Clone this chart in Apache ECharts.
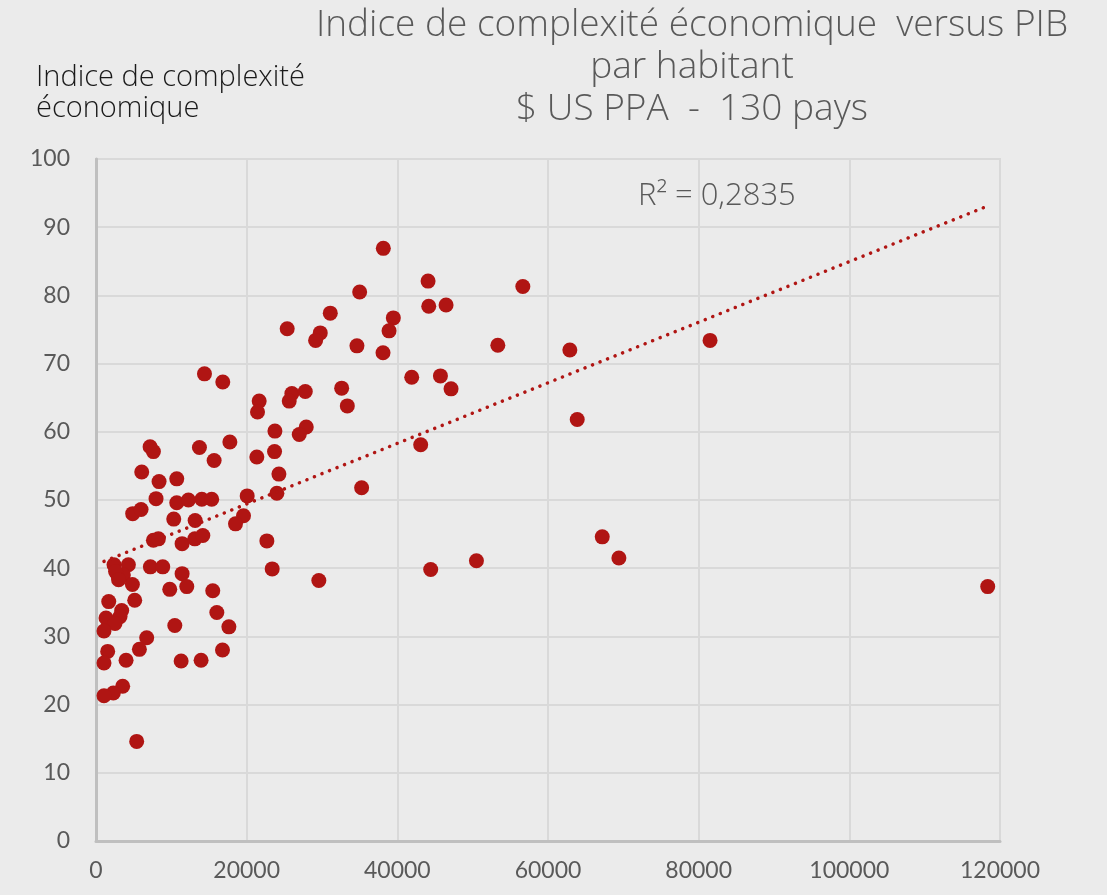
<!DOCTYPE html>
<html>
<head>
<meta charset="utf-8">
<script src="https://cdn.jsdelivr.net/npm/echarts@6/dist/echarts.min.js"></script>
<style>
  html, body { margin: 0; padding: 0; background: #ebebeb; }
  #chart { width: 1107px; height: 895px; }
</style>
</head>
<body>
<div id="chart"></div>
<script>
// PIB par habitant ($ US PPA) and indice de complexité
const gdp = [
    38140, 44080, 44170, 46470, 35000, 56660, 31100, 39470, 38900, 25380,
    29770, 29150, 34640, 38100, 53340, 62900, 81510, 63880, 67200, 69410,
    50500, 118370, 14400, 16830, 41910, 45720, 47130, 32610, 33360, 21660,
    21440, 26000, 25650, 27780, 27910, 26980, 23750, 23700, 21350, 17770,
    13730, 15680, 24280, 24010, 35260, 43100, 20070, 19580, 18520, 13160,
    14050, 15360, 7180, 7620, 6070, 8370, 10720, 7970, 10720, 12270,
    4870, 5980, 10320, 11430, 13120, 14180, 7620, 8280, 22680, 23390,
    2390, 4300, 7220, 8860, 11430, 2960, 3630, 4830, 12050, 9790,
    15500, 1690, 5140, 3410, 3190, 1330, 2520, 1060, 10460, 16040,
    17640, 6730, 5760, 1550, 1060, 3990, 11300, 13950, 16790, 3540,
    2300, 1060, 5400, 29580, 44430, 2600, 3000
];
const eci = [
    86.9, 82.1, 78.4, 78.6, 80.5, 81.3, 77.4, 76.7, 74.8, 75.1,
    74.5, 73.4, 72.6, 71.6, 72.7, 72.0, 73.4, 61.8, 44.6, 41.5,
    41.1, 37.3, 68.5, 67.3, 68.0, 68.2, 66.3, 66.4, 63.8, 64.5,
    62.9, 65.6, 64.5, 65.9, 60.7, 59.6, 60.1, 57.1, 56.3, 58.5,
    57.7, 55.8, 53.8, 51.0, 51.8, 58.1, 50.6, 47.7, 46.5, 47.0,
    50.1, 50.1, 57.8, 57.1, 54.1, 52.7, 53.1, 50.2, 49.6, 50.0,
    48.0, 48.6, 47.2, 43.6, 44.3, 44.8, 44.1, 44.3, 44.0, 39.9,
    40.5, 40.5, 40.2, 40.2, 39.2, 38.8, 39.0, 37.6, 37.3, 36.9,
    36.7, 35.1, 35.3, 33.8, 32.9, 32.7, 31.9, 30.8, 31.6, 33.5,
    31.4, 29.8, 28.1, 27.8, 26.1, 26.5, 26.4, 26.5, 28.0, 22.7,
    21.7, 21.3, 14.6, 38.2, 39.8, 39.5, 38.3
];
const xTicks = [0, 20000, 40000, 60000, 80000, 100000, 120000];
const yTicks = [0, 10, 20, 30, 40, 50, 60, 70, 80, 90, 100];
const r2Label = 'R² = 0,2835';

const red = '#b01513';
const grey = '#595959';
const font = 'Lato, "Open Sans", sans-serif';
const wide = '"Open Sans", Lato, sans-serif';

// linear trend (least squares) over the points
function trend(xs, ys) {
    const n = xs.length;
    let sx = 0, sy = 0, sxx = 0, sxy = 0;
    for (let i = 0; i < n; i++) {
        sx += xs[i]; sy += ys[i]; sxx += xs[i] * xs[i]; sxy += xs[i] * ys[i];
    }
    const b = (n * sxy - sx * sy) / (n * sxx - sx * sx);
    const a = (sy - b * sx) / n;
    const x0 = Math.min(...xs), x1 = Math.max(...xs);
    return [[x0, a + b * x0], [x1, a + b * x1]];
}

const points = gdp.map((g, i) => [g, eci[i]]);

var chart = echarts.init(document.getElementById('chart'));
chart.setOption({
    backgroundColor: '#ebebeb',
    animation: false,
    title: {
        text: 'Indice de complexité économique  versus PIB\npar habitant\n$ US PPA  -  130 pays',
        left: 687,
        top: -1,
        textAlign: 'center',
        textStyle: {
            fontFamily: wide,
            fontSize: 37,
            fontWeight: 300,
            color: grey,
            lineHeight: 42
        }
    },
    graphic: [
        {
            type: 'text',
            left: 36,
            top: 62,
            style: {
                text: 'Indice de complexité\néconomique',
                font: '300 29px ' + wide,
                fill: '#1a1a1a',
                lineHeight: 31
            }
        },
        {
            type: 'text',
            left: 638,
            top: 181,
            style: {
                text: r2Label,
                font: '300 31px ' + wide,
                fill: grey
            }
        }
    ],
    grid: {
        left: 96,
        right: 107,
        top: 159,
        bottom: 54,
        show: true,
        borderColor: '#d9d9d9',
        borderWidth: 2,
        backgroundColor: 'transparent'
    },
    xAxis: {
        type: 'value',
        min: xTicks[0],
        max: xTicks[xTicks.length - 1],
        interval: 20000,
        axisLine: { show: true, onZero: false, lineStyle: { color: '#bfbfbf', width: 3 } },
        axisTick: { show: false },
        splitLine: { show: true, lineStyle: { color: '#d9d9d9', width: 2 } },
        axisLabel: {
            margin: 18,
            fontFamily: font,
            fontSize: 23,
            color: grey,
            formatter: v => String(v)
        }
    },
    yAxis: {
        type: 'value',
        min: yTicks[0],
        max: yTicks[yTicks.length - 1],
        interval: 10,
        axisLine: { show: true, onZero: false, lineStyle: { color: '#bfbfbf', width: 3 } },
        axisTick: { show: false },
        splitLine: { show: true, lineStyle: { color: '#d9d9d9', width: 2 } },
        axisLabel: {
            margin: 26,
            fontFamily: font,
            fontSize: 23,
            color: grey
        }
    },
    series: [
        {
            type: 'scatter',
            data: points,
            symbolSize: 15,
            itemStyle: { color: red, opacity: 1 },
            z: 3
        },
        {
            type: 'line',
            data: trend(gdp, eci),
            symbol: 'none',
            silent: true,
            lineStyle: { color: red, width: 3.5, type: [0.1, 8], cap: 'round' },
            z: 4
        }
    ]
});
</script>
</body>
</html>
